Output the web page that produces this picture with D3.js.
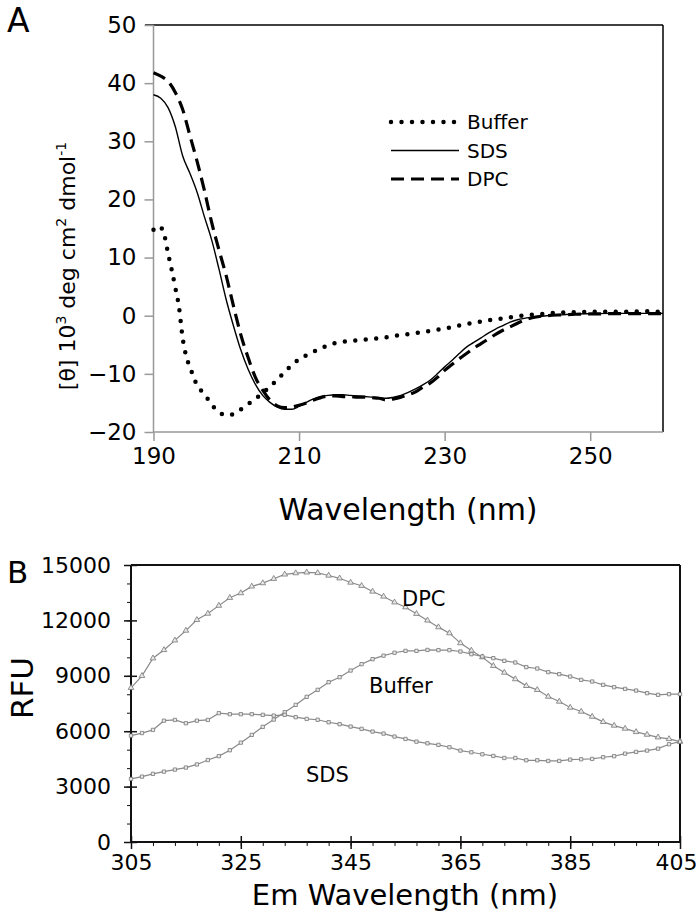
<!DOCTYPE html>
<html>
<head>
<meta charset="utf-8">
<script src="https://cdn.jsdelivr.net/npm/d3@7"></script>
<style>
body { margin: 0; background: #fff; }
svg { display: block; font-family: "DejaVu Sans", sans-serif; }
</style>
</head>
<body>
<svg width="698" height="920"></svg>
<script>
// panel A: CD spectra
var cdNm     = [190,191,192,193,194,195,196,197,198,199,200,201,202,203,204,205,206,207,208,209,210,211,212,213,214,215,216,217,218,219,220,221,222,223,224,225,226,227,228,229,230,231,232,233,234,235,236,237,238,239,240,242,244,246,248,250,253,256,260];
var sdsCd    = [38.0,37.4,35.8,32.5,27.5,24.5,21.2,17.0,13.0,8.0,2.7,-1.8,-5.9,-9.2,-11.8,-13.7,-14.9,-15.7,-16.1,-16.1,-15.6,-14.9,-14.3,-13.9,-13.7,-13.6,-13.6,-13.7,-13.8,-13.9,-14.0,-14.1,-14.2,-14.0,-13.7,-13.2,-12.6,-11.9,-11.1,-10.0,-8.8,-7.7,-6.5,-5.4,-4.6,-3.8,-3.0,-2.3,-1.7,-1.1,-0.7,-0.25,0.0,0.15,0.3,0.35,0.4,0.4,0.4];
var dpcCd    = [41.8,41.2,40.3,38.4,35.5,31.0,26.5,21.5,16.0,11.3,6.8,1.6,-3.3,-7.2,-10.6,-12.8,-14.5,-15.5,-15.8,-15.7,-15.4,-15.0,-14.5,-14.1,-13.8,-13.8,-13.9,-13.9,-14.0,-14.0,-14.1,-14.2,-14.5,-14.3,-14.0,-13.6,-13.1,-12.3,-11.6,-10.6,-9.4,-8.4,-7.4,-6.5,-5.6,-4.8,-4.0,-3.2,-2.5,-1.9,-1.3,-0.35,0.0,0.15,0.25,0.3,0.35,0.35,0.35];
var bufNm    = [190,190.5,191,191.5,192,192.5,193,193.5,194,194.5,195,196,197,198,199,200,201,202,203,204,205,206,207,208,209,210,211,212,213,214,215,216,218,220,222,224,226,228,230,232,234,236,238,240,242,244,246,248,250,252,255,258,260];
var bufCd    = [14.8,15.4,15.2,13.8,10.7,7.9,4.8,1.5,-3.8,-7.0,-8.8,-12.0,-13.5,-15.3,-16.6,-17.1,-16.9,-16.1,-15.2,-14.3,-13.3,-12.2,-11.0,-9.7,-8.5,-7.5,-6.8,-6.2,-5.6,-5.1,-4.7,-4.5,-4.25,-4.0,-3.7,-3.3,-3.0,-2.6,-2.2,-1.7,-1.2,-0.8,-0.45,-0.1,0.15,0.35,0.55,0.6,0.65,0.7,0.7,0.75,0.6];
var cdTicksX = [190,210,230,250];
var cdTicksY = [-20,-10,0,10,20,30,40,50];

// panel B: fluorescence emission, every 2 nm from 305 to 405
var emNm = d3.range(305, 406, 2);
var dpcRfu = [8350,9000,9950,10400,10920,11450,12030,12370,12800,13225,13480,13840,14020,14255,14490,14560,14600,14570,14430,14280,14050,13875,13565,13295,12980,12715,12360,12000,11635,11310,10770,10370,10010,9540,9175,8820,8455,8240,7875,7605,7280,7065,6790,6505,6305,6140,5960,5815,5670,5580,5435];
var bufRfu = [3415,3540,3690,3810,3920,4030,4200,4440,4650,4970,5380,5800,6235,6630,7030,7425,7860,8240,8655,8925,9285,9630,9900,10090,10250,10350,10350,10400,10390,10390,10315,10170,10045,9955,9810,9720,9470,9395,9200,9090,8960,8780,8690,8510,8385,8290,8200,8060,7970,8005,8005];
var sdsRfu = [5760,5900,6070,6570,6610,6430,6570,6610,6975,6920,6920,6920,6885,6845,6885,6760,6665,6620,6485,6380,6250,6125,5980,5870,5710,5580,5435,5345,5260,5130,4950,4860,4750,4660,4550,4550,4425,4425,4390,4390,4460,4480,4500,4590,4645,4785,4880,4950,5055,5295,5435];
var emTicksX = [305,325,345,365,385,405];
var emTicksY = [0,3000,6000,9000,12000,15000];

var svg = d3.select("svg");

// ---------- panel A ----------
var ax = d3.scaleLinear().domain([190, 260]).range([153.5, 663]);
var ay = d3.scaleLinear().domain([-20, 50]).range([432, 25]);
var gA = svg.append("g");

gA.append("line").attr("x1", 145).attr("x2", 663).attr("y1", ay(50)).attr("y2", ay(50))
	.attr("stroke", "#000").attr("stroke-width", 1.5);
gA.append("line").attr("x1", ax(260)).attr("x2", ax(260)).attr("y1", ay(50)).attr("y2", ay(-20))
	.attr("stroke", "#000").attr("stroke-width", 1.5);

var axL = gA.append("g").attr("transform", "translate(" + ax(190) + ",0)")
	.call(d3.axisLeft(ay).tickValues(cdTicksY).tickSize(9).tickPadding(8));
var axB = gA.append("g").attr("transform", "translate(0," + ay(-20) + ")")
	.call(d3.axisBottom(ax).tickValues(cdTicksX).tickSize(9).tickPadding(7));
[axL, axB].forEach(function(a) {
	a.select(".domain").attr("stroke", "#999").attr("stroke-width", 1.5);
	a.selectAll(".tick line").attr("stroke", "#999").attr("stroke-width", 1.5);
	a.selectAll("text").attr("font-size", 23).attr("fill", "#000").attr("font-family", "DejaVu Sans");
});
axL.select(".domain").attr("d", "M0," + ay(50) + "V" + ay(-20));
axB.select(".domain").attr("d", "M" + ax(190) + ",0H" + ax(260));

var lineA = d3.line().curve(d3.curveMonotoneX)
	.x(function(d) { return ax(d[0]); })
	.y(function(d) { return ay(d[1]); });

gA.append("path").datum(d3.zip(bufNm, bufCd)).attr("d", lineA)
	.attr("fill", "none").attr("stroke", "#000").attr("stroke-width", 4.5)
	.attr("stroke-linecap", "round").attr("stroke-dasharray", "0 10.5");
gA.append("path").datum(d3.zip(cdNm, sdsCd)).attr("d", lineA)
	.attr("fill", "none").attr("stroke", "#000").attr("stroke-width", 1.4);
gA.append("path").datum(d3.zip(cdNm, dpcCd)).attr("d", lineA)
	.attr("fill", "none").attr("stroke", "#000").attr("stroke-width", 3.2)
	.attr("stroke-dasharray", "13 7");

// legend
var legend = [
	{name: "Buffer", w: 4.5, dash: "0 10.5", cap: "round"},
	{name: "SDS", w: 1.4, dash: null, cap: "butt"},
	{name: "DPC", w: 3.2, dash: "13 7", cap: "butt"}
];
legend.forEach(function(d, i) {
	var y = 122 + i * 28.5;
	gA.append("line").attr("x1", 391).attr("x2", 459).attr("y1", y).attr("y2", y)
		.attr("stroke", "#000").attr("stroke-width", d.w)
		.attr("stroke-linecap", d.cap).attr("stroke-dasharray", d.dash);
	gA.append("text").attr("x", 467).attr("y", y + 7).attr("font-size", 20).text(d.name);
});

gA.append("text").attr("x", 408).attr("y", 520).attr("text-anchor", "middle")
	.attr("font-size", 30).text("Wavelength (nm)");
var yt = gA.append("text").attr("transform", "translate(75,266) rotate(-90)")
	.attr("text-anchor", "middle").attr("font-size", 22);
yt.append("tspan").text("[θ] 10");
yt.append("tspan").attr("font-size", 14).attr("dy", -9).text("3");
yt.append("tspan").attr("dy", 9).text(" deg cm");
yt.append("tspan").attr("font-size", 14).attr("dy", -9).text("2");
yt.append("tspan").attr("dy", 9).text(" dmol");
yt.append("tspan").attr("font-size", 14).attr("dy", -9).text("-1");

svg.append("text").attr("x", 7).attr("y", 32).attr("font-size", 33).text("A");

// ---------- panel B ----------
var bx = d3.scaleLinear().domain([305, 405]).range([131, 680]);
var by = d3.scaleLinear().domain([0, 15000]).range([842, 565]);
var gB = svg.append("g");

gB.append("line").attr("x1", bx(305)).attr("x2", bx(405)).attr("y1", by(15000)).attr("y2", by(15000))
	.attr("stroke", "#111").attr("stroke-width", 2);
gB.append("line").attr("x1", bx(405)).attr("x2", bx(405)).attr("y1", by(15000)).attr("y2", by(0))
	.attr("stroke", "#111").attr("stroke-width", 2);

// minor ticks
gB.append("g").attr("transform", "translate(" + bx(305) + ",0)")
	.call(d3.axisLeft(by).tickValues(d3.range(0, 15001, 1000)).tickSize(4).tickFormat(""))
	.call(function(g) { g.select(".domain").remove(); });
gB.append("g").attr("transform", "translate(0," + by(0) + ")")
	.call(d3.axisBottom(bx).tickValues(d3.range(305, 406, 4)).tickSize(4).tickFormat(""))
	.call(function(g) { g.select(".domain").remove(); });

var bL = gB.append("g").attr("transform", "translate(" + bx(305) + ",0)")
	.call(d3.axisLeft(by).tickValues(emTicksY).tickFormat(d3.format("d")).tickSize(7).tickPadding(13));
var bB = gB.append("g").attr("transform", "translate(0," + by(0) + ")")
	.call(d3.axisBottom(bx).tickValues(emTicksX).tickSize(7).tickPadding(5));
bL.selectAll(".tick line").attr("x2", 6).attr("x1", -7);
bB.selectAll(".tick line").attr("y1", -6).attr("y2", 7);
[bL, bB].forEach(function(a) {
	a.select(".domain").attr("stroke", "#111").attr("stroke-width", 2);
	a.selectAll(".tick line").attr("stroke", "#111").attr("stroke-width", 1.5);
	a.selectAll("text").attr("font-size", 22).attr("fill", "#000").attr("font-family", "DejaVu Sans");
});
bB.selectAll(".tick text").filter(function(d) { return d == 405; }).attr("dx", -4);
bL.select(".domain").attr("d", "M0," + by(15000) + "V" + by(0));
bB.select(".domain").attr("d", "M" + bx(305) + ",0H" + bx(405));
gB.selectAll(".tick line").attr("stroke", "#111");

var lineB = d3.line()
	.x(function(d) { return bx(d[0]); })
	.y(function(d) { return by(d[1]); });

var series = [
	{vals: dpcRfu, mark: "tri"},
	{vals: bufRfu, mark: "sq"},
	{vals: sdsRfu, mark: "sq"}
];
series.forEach(function(s) {
	var pts = d3.zip(emNm, s.vals);
	gB.append("path").datum(pts).attr("d", lineB)
		.attr("fill", "none").attr("stroke", "#8a8a8a").attr("stroke-width", 1.2);
	var sym = d3.symbol().type(s.mark == "tri" ? d3.symbolTriangle : d3.symbolSquare)
		.size(s.mark == "tri" ? 14 : 11);
	gB.append("g").selectAll("path").data(pts).join("path")
		.attr("transform", function(d) { return "translate(" + bx(d[0]) + "," + by(d[1]) + ")"; })
		.attr("d", sym)
		.attr("fill", "#e8e8e8").attr("stroke", "#777").attr("stroke-width", 0.8);
});

gB.append("text").attr("x", 402).attr("y", 606).attr("font-size", 21).text("DPC");
gB.append("text").attr("x", 369).attr("y", 693).attr("font-size", 21).text("Buffer");
gB.append("text").attr("x", 306).attr("y", 782).attr("font-size", 21).text("SDS");

gB.append("text").attr("x", 405).attr("y", 905).attr("text-anchor", "middle")
	.attr("font-size", 29).text("Em Wavelength (nm)");
gB.append("text").attr("transform", "translate(33,688) rotate(-90)")
	.attr("text-anchor", "middle").attr("font-size", 31).text("RFU");

svg.append("text").attr("x", 7).attr("y", 583).attr("font-size", 31).text("B");
</script>
</body>
</html>
